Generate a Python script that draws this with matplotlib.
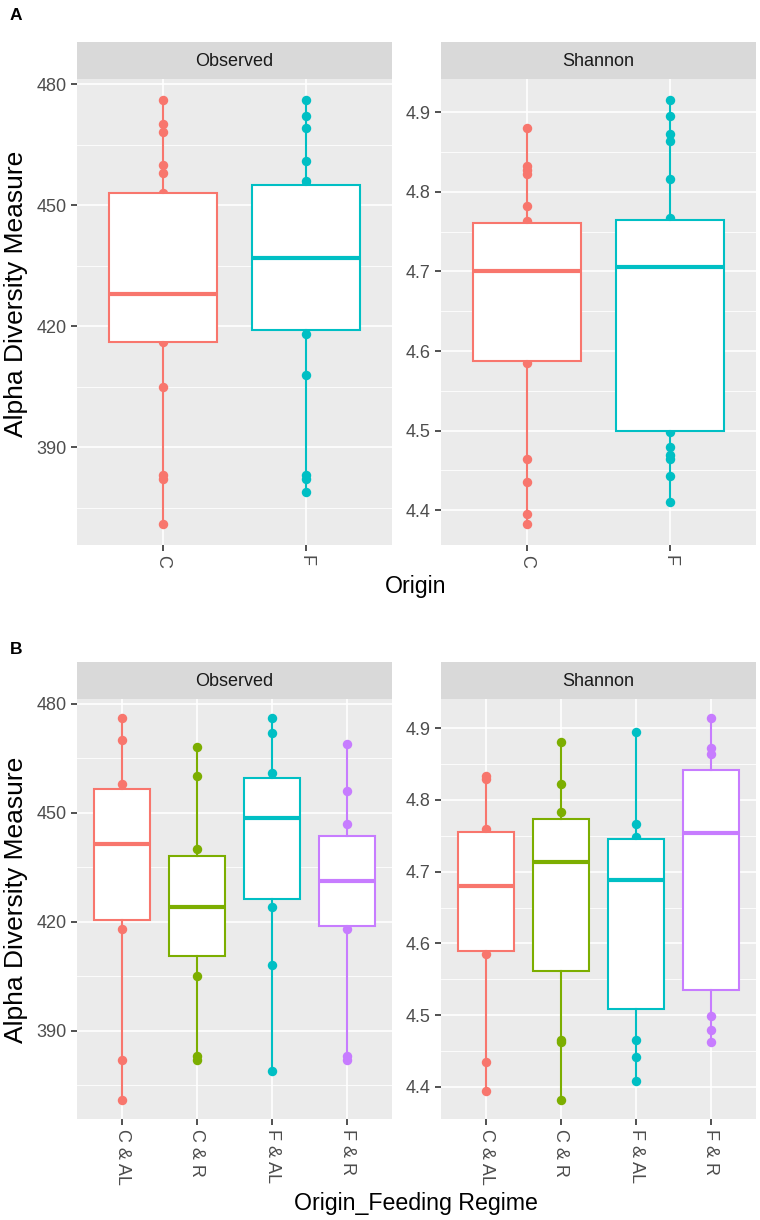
import matplotlib
matplotlib.use("Agg")
import matplotlib.pyplot as plt
import numpy as np

plt.rcParams['font.family'] = ['Liberation Sans', 'DejaVu Sans']

# ---------------- data ----------------
origin = ["C", "F"]
regime = ["C & AL", "C & R", "F & AL", "F & R"]
colors_origin = ["#F8766D", "#00BFC4"]
colors_regime = ["#F8766D", "#7CAE00", "#00BFC4", "#C77CFF"]

# Panel A - Observed (visible sample points per group)
a_obs_C = [476, 470, 468, 460, 458, 453, 416, 405, 383, 382, 371]
a_obs_F = [476, 472, 469, 461, 456, 455, 418, 408, 383, 382, 379]
a_obs_q1 = [416, 419]
a_obs_med = [428, 437]
a_obs_q3 = [453, 455]

# Panel A - Shannon
a_sha_C = [4.880, 4.832, 4.827, 4.822, 4.782, 4.763, 4.585, 4.464, 4.436, 4.395, 4.383]
a_sha_F = [4.915, 4.895, 4.873, 4.864, 4.816, 4.767, 4.498, 4.480, 4.470, 4.464, 4.443, 4.410]
a_sha_q1 = [4.587, 4.499]
a_sha_med = [4.700, 4.705]
a_sha_q3 = [4.761, 4.764]

# Panel B - Observed
b_obs_CAL = [476, 470, 458, 418, 382, 371]
b_obs_CR = [468, 460, 440, 405, 383, 382]
b_obs_FAL = [476, 472, 461, 424, 408, 379]
b_obs_FR = [469, 456, 447, 418, 383, 382]
b_obs_q1 = [420.6, 410.5, 426.2, 418.8]
b_obs_med = [441.5, 424.1, 448.6, 431.1]
b_obs_q3 = [456.6, 438.1, 459.5, 443.5]

# Panel B - Shannon
b_sha_CAL = [4.833, 4.829, 4.760, 4.585, 4.435, 4.394]
b_sha_CR = [4.880, 4.822, 4.783, 4.465, 4.462, 4.382]
b_sha_FAL = [4.895, 4.766, 4.748, 4.466, 4.442, 4.409]
b_sha_FR = [4.914, 4.873, 4.864, 4.499, 4.479, 4.463]
b_sha_q1 = [4.590, 4.561, 4.509, 4.535]
b_sha_med = [4.680, 4.713, 4.689, 4.754]
b_sha_q3 = [4.755, 4.773, 4.745, 4.841]

obs_major = [390, 420, 450, 480]
obs_minor = [375, 405, 435, 465]
sha_major = [4.4, 4.5, 4.6, 4.7, 4.8, 4.9]
sha_minor = [4.45, 4.55, 4.65, 4.75, 4.85]

# ---------------- drawing ----------------
W, H = 760, 1220
fig = plt.figure(figsize=(W / 100, H / 100), dpi=100)

def add_ax(x0, y0, x1, y1):
    return fig.add_axes([x0 / W, 1 - y1 / H, (x1 - x0) / W, (y1 - y0) / H])

def strip(x0, y0, x1, y1, title):
    s = add_ax(x0, y0, x1, y1)
    s.set_facecolor("#D9D9D9")
    s.set_xticks([]); s.set_yticks([])
    for sp in s.spines.values():
        sp.set_visible(False)
    s.text(0.5, 0.48, title, ha="center", va="center", fontsize=13, color="#1A1A1A",
           transform=s.transAxes)

def panel(x0, y0, x1, y1, title, cats, groups, q1s, meds, q3s, cols, major, minor, fmt):
    strip(x0, y0 - 37, x1, y0, title)
    ax = add_ax(x0, y0, x1, y1)
    ax.set_facecolor("#EBEBEB")
    for sp in ax.spines.values():
        sp.set_visible(False)
    n = len(cats)
    pos = np.arange(n)
    allv = np.concatenate([np.asarray(g, float) for g in groups])
    lo, hi = allv.min(), allv.max()
    pad = (hi - lo) * 0.05
    ax.set_ylim(lo - pad, hi + pad)
    ax.set_xlim(-0.6, n - 1 + 0.6)
    # grid
    for m in minor:
        ax.axhline(m, color="white", lw=0.6, zorder=0)
    for m in major:
        ax.axhline(m, color="white", lw=1.2, zorder=0)
    for p in pos:
        ax.axvline(p, color="white", lw=1.2, zorder=0)
    # points and boxes
    for i, (g, c) in enumerate(zip(groups, cols)):
        ax.plot([pos[i]] * len(g), g, "o", color=c, ms=6.8, mec="none", zorder=2)
        st = [dict(med=meds[i], q1=q1s[i], q3=q3s[i], whislo=min(g), whishi=max(g), fliers=[])]
        ax.bxp(st, positions=[pos[i]], widths=0.75, patch_artist=True, showcaps=False,
               showfliers=False, manage_ticks=False, zorder=3,
               boxprops=dict(facecolor="white", edgecolor=c, linewidth=1.5),
               whiskerprops=dict(color=c, linewidth=1.5),
               medianprops=dict(color=c, linewidth=3.0, solid_capstyle="butt"))
    ax.set_yticks(major)
    ax.set_yticklabels([fmt(v) for v in major])
    ax.set_xticks(pos)
    ax.set_xticklabels(cats, rotation=270, va="top", ha="center")
    ax.tick_params(axis="both", length=4.2, width=1.2, color="#333333",
                   labelcolor="#4D4D4D", labelsize=13, pad=3.3)
    return ax

fo = lambda v: f"{v:.0f}"
fs = lambda v: f"{v:.1f}"

# Panel A
panel(77, 79, 392, 545, "Observed", origin, [a_obs_C, a_obs_F], a_obs_q1, a_obs_med, a_obs_q3,
      colors_origin, obs_major, obs_minor, fo)
panel(441, 79, 756, 545, "Shannon", origin, [a_sha_C, a_sha_F], a_sha_q1, a_sha_med, a_sha_q3,
      colors_origin, sha_major, sha_minor, fs)
# Panel B
panel(77, 699, 392, 1119, "Observed", regime, [b_obs_CAL, b_obs_CR, b_obs_FAL, b_obs_FR],
      b_obs_q1, b_obs_med, b_obs_q3, colors_regime, obs_major, obs_minor, fo)
panel(441, 699, 756, 1119, "Shannon", regime, [b_sha_CAL, b_sha_CR, b_sha_FAL, b_sha_FR],
      b_sha_q1, b_sha_med, b_sha_q3, colors_regime, sha_major, sha_minor, fs)

# titles / labels
fig.text(16 / W, 1 - 294 / H, "Alpha Diversity Measure", rotation=90,
         ha="center", va="center", fontsize=19)
fig.text(16 / W, 1 - 900 / H, "Alpha Diversity Measure", rotation=90,
         ha="center", va="center", fontsize=19)
fig.text(416 / W, 1 - 593 / H, "Origin", ha="center", va="baseline", fontsize=16.7)
fig.text(416 / W, 1 - 1210 / H, "Origin_Feeding Regime", ha="center", va="baseline", fontsize=16.7)
fig.text(16 / W, 1 - 16 / H, "A", ha="center", va="center", fontsize=12.5, fontweight="bold")
fig.text(16 / W, 1 - 650 / H, "B", ha="center", va="center", fontsize=12.5, fontweight="bold")

fig.savefig("out.png", dpi=100)
